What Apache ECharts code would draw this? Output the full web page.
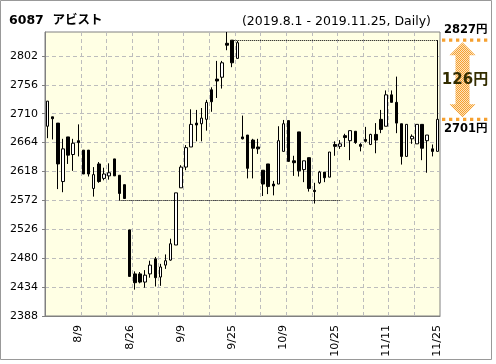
<!DOCTYPE html>
<html><head><meta charset="utf-8">
<script src="https://cdn.jsdelivr.net/npm/echarts@6/dist/echarts.min.js"></script>
<style>html,body{margin:0;padding:0;background:#fff}#c{width:496px;height:364px}</style>
</head><body><div id="c"></div>
<script>
const dates = ['8/1','8/2','8/5','8/6','8/7','8/8','8/9','8/13','8/14','8/15','8/16','8/19','8/20','8/21','8/22','8/23','8/26','8/27','8/28','8/29','8/30',
'9/2','9/3','9/4','9/5','9/6','9/9','9/10','9/11','9/12','9/13','9/17','9/18','9/19','9/20','9/24','9/25','9/26','9/27','9/30',
'10/1','10/2','10/3','10/4','10/7','10/8','10/9','10/10','10/11','10/15','10/16','10/17','10/18','10/21','10/23','10/24','10/25','10/28','10/29','10/30','10/31',
'11/1','11/5','11/6','11/7','11/8','11/11','11/12','11/13','11/14','11/15','11/18','11/19','11/20','11/21','11/22','11/25'];
const opens  = [2690,2705,2695,2602,2673,2645,2667,2652,2652,2591,2630,2607,2611,2638,2612,2597,2525,2455,2455,2442,2455,
2479,2450,2469,2477,2501,2592,2625,2657,2695,2694,2701,2748,2765,2768,2822,2827,2798,2673,2676,
2668,2657,2620,2630,2598,2598,2650,2699,2635,2681,2621,2640,2588,2600,2617,2609,2661,2658,2675,2667,2682,
2661,2669,2661,2677,2701,2690,2740,2728,2694,2642,2670,2662,2693,2667,2654,2650];
const closes = [2730,2702,2630,2654,2644,2663,2664,2614,2614,2613,2602,2614,2616,2611,2583,2575,2451,2441,2442,2453,2469,
2449,2466,2476,2503,2584,2625,2656,2693,2692,2703,2728,2729,2762,2791,2819,2791,2823,2670,2623,
2655,2654,2598,2594,2595,2667,2694,2634,2632,2619,2635,2591,2586,2617,2608,2649,2658,2662,2672,2683,2664,
2658,2666,2677,2668,2685,2740,2728,2695,2642,2693,2674,2693,2655,2676,2650,2701];
const lows   = [2671,2669,2590,2585,2630,2619,2642,2614,2610,2578,2600,2604,2605,2611,2572,2575,2451,2430,2440,2433,2449,
2435,2436,2463,2476,2501,2592,2620,2657,2666,2666,2683,2713,2735,2750,2811,2784,2798,2669,2607,
2607,2646,2579,2582,2580,2598,2650,2634,2611,2610,2601,2586,2567,2598,2601,2609,2643,2654,2657,2636,2662,
2650,2664,2660,2647,2679,2690,2728,2679,2629,2642,2662,2662,2636,2616,2642,2650];
const highs  = [2730,2705,2695,2670,2673,2670,2693,2652,2652,2625,2633,2624,2631,2638,2612,2597,2525,2459,2458,2461,2476,
2482,2471,2486,2511,2584,2628,2660,2717,2716,2719,2732,2752,2794,2794,2840,2827,2826,2707,2676,
2670,2670,2620,2630,2603,2690,2700,2699,2643,2681,2635,2640,2600,2619,2617,2649,2666,2668,2678,2683,2682,
2663,2689,2678,2695,2716,2747,2747,2769,2694,2693,2677,2693,2693,2676,2661,2701];
const yMin = 2388, yMax = 2840, yStep = 46;
const topValue = 2827, lastValue = 2701;
const supportValue = 2572, supportFrom = 14, supportTo = 57, topFrom = 36;
const labelIdx = i => i % 10 === 6;
const tickIdx = i => i % 5 === 2;

const ohlc = dates.map((d, i) => [opens[i], closes[i], lows[i], highs[i]]);
const last = dates.length - 1;
const chart = echarts.init(document.getElementById('c'), null, {renderer: 'canvas'});
const FONT = "'DejaVu Sans', Verdana, sans-serif";
chart.setOption({
  animation: false,
  backgroundColor: '#fff',
  title: [
    {text: '6087  アビスト', left: 4, top: 9, textStyle: {fontSize: 12.5, fontWeight: 'bold', color: '#000', fontFamily: FONT + ", 'Noto Sans CJK JP'"}},
    {text: '(2019.8.1 - 2019.11.25, Daily)', right: 60, top: 10, textStyle: {fontSize: 12.5, fontWeight: 'normal', color: '#000', fontFamily: FONT}}
  ],
  grid: {left: 45, right: 56, top: 32, bottom: 48, show: true, backgroundColor: '#ffffe4', borderColor: '#808080', borderWidth: 1, outerBoundsMode: 'none'},
  xAxis: {
    type: 'category', data: dates, boundaryGap: true,
    axisLine: {lineStyle: {color: '#808080'}},
    axisTick: {interval: (i) => tickIdx(i), length: 3, lineStyle: {color: '#808080'}},
    axisLabel: {interval: (i) => labelIdx(i), rotate: 90, margin: 9, fontSize: 11, color: '#000', fontFamily: FONT},
    splitLine: {show: true, interval: (i) => tickIdx(i), showMinLine: false, showMaxLine: false, lineStyle: {color: '#bdbdbd', type: [4, 3]}}
  },
  yAxis: {
    type: 'value', min: yMin, max: yMax, interval: yStep,
    axisLine: {show: true, lineStyle: {color: '#808080'}},
    axisTick: {show: true, length: 3, lineStyle: {color: '#808080'}},
    axisLabel: {fontSize: 11, color: '#000', margin: 7, fontFamily: FONT, showMaxLabel: false, formatter: v => String(v)},
    splitLine: {show: true, showMinLine: false, showMaxLine: false, lineStyle: {color: '#bdbdbd', type: [4, 3]}}
  },
  series: [{
    type: 'candlestick', data: ohlc, barWidth: 3,
    itemStyle: {color: '#fff', color0: '#000', borderColor: '#000', borderColor0: '#000', borderWidth: 1},
    markLine: {
      silent: true, symbol: ['none', 'none'], label: {show: false}, animation: false,
      data: [
        [{coord: [supportFrom, supportValue], lineStyle: {type: [1, 1], color: '#000', width: 1}}, {coord: [supportTo, supportValue]}],
        [{coord: [topFrom, topValue], lineStyle: {type: [1, 1], color: '#000', width: 1}}, {coord: [last, topValue]}],
        [{coord: [last, topValue], lineStyle: {type: 'solid', color: '#000', width: 1}}, {coord: [last, lastValue]}]
      ]
    }
  }]
});

const pTop = chart.convertToPixel({gridIndex: 0}, [last, topValue]);
const pLast = chart.convertToPixel({gridIndex: 0}, [last, lastValue]);
const yT = pTop[1], yL = pLast[1];
const pat = document.createElement('canvas'); pat.width = 2; pat.height = 2;
const pc = pat.getContext('2d');
pc.fillStyle = '#fde3bd'; pc.fillRect(0,0,2,2);
pc.fillStyle = '#f5a030'; pc.fillRect(0,0,1,1); pc.fillRect(1,1,1,1);
const cx = 462.5, hw = 13, sw = 7, hh = 13;
const a0 = yT + 2, a1 = yL - 2;
chart.setOption({
  graphic: [
    {type: 'rect', shape: {x: 0.5, y: 0.5, width: 491, height: 359}, style: {fill: null, stroke: '#999', lineWidth: 1}, silent: true},
    {type: 'polygon', shape: {points: [[cx, a0], [cx + hw, a0 + hh], [cx + sw, a0 + hh], [cx + sw, a1 - hh], [cx + hw, a1 - hh], [cx, a1], [cx - hw, a1 - hh], [cx - sw, a1 - hh], [cx - sw, a0 + hh], [cx - hw, a0 + hh]]},
      style: {fill: {image: pat, repeat: 'repeat'}}, silent: true},
    {type: 'line', shape: {x1: 442, y1: yT, x2: 489, y2: yT}, style: {stroke: '#f5a030', lineWidth: 3.3, lineDash: [3.3, 3.7]}, silent: true},
    {type: 'line', shape: {x1: 442, y1: yL, x2: 489, y2: yL}, style: {stroke: '#f5a030', lineWidth: 3.3, lineDash: [3.3, 3.7]}, silent: true},
    {type: 'text', x: 444, y: yT - 4, style: {text: topValue + '円', fill: '#000', font: "bold 11.5px 'DejaVu Sans', 'Noto Sans CJK JP'", textVerticalAlign: 'bottom'}, silent: true},
    {type: 'text', x: 444, y: yL + 4, style: {text: lastValue + '円', fill: '#000', font: "bold 11.5px 'DejaVu Sans', 'Noto Sans CJK JP'", textVerticalAlign: 'top'}, silent: true},
    {type: 'text', x: 465, y: (yT + yL) / 2, style: {text: (topValue - lastValue) + '円', fill: '#332d00', font: "bold 15px 'DejaVu Sans', 'Noto Sans CJK JP'", textAlign: 'center', textVerticalAlign: 'middle'}, silent: true}
  ]
});
</script></body></html>
